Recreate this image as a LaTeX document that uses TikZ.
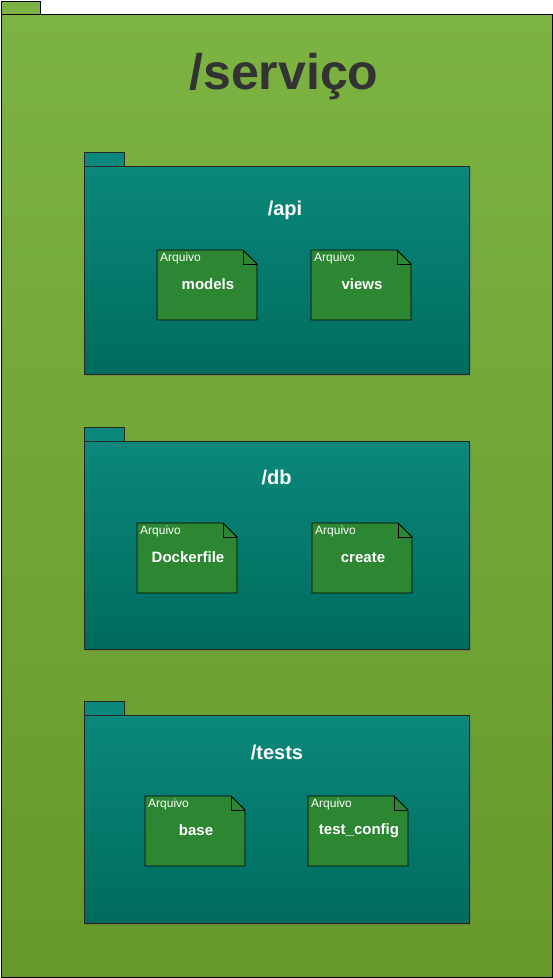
\documentclass[tikz,border=0pt]{standalone}
\usepackage{fontspec}
\setmainfont{Liberation Sans}
\definecolor{outerTop}{HTML}{7DB343}
\definecolor{outerBot}{HTML}{66992A}
\definecolor{pkgTop}{HTML}{0A887B}
\definecolor{pkgBot}{HTML}{006B5F}
\definecolor{fileFill}{HTML}{2D8632}
\definecolor{titleGray}{HTML}{333333}
\tikzset{
  pkgline/.style={draw=black!85, line width=0.8pt},
  pkgshade/.style={top color=pkgTop, bottom color=pkgBot},
  filebox/.style={fill=fileFill, draw=black, line width=0.8pt},
  pkgtitle/.style={text=white, font=\bfseries\fontsize{20}{24}\selectfont, inner sep=0pt},
  ftag/.style={text=white, font=\fontsize{12}{14}\selectfont, inner sep=0pt, anchor=west},
  fname/.style={text=white, font=\bfseries\fontsize{15}{18}\selectfont, inner sep=0pt},
}
% file: #1 name, #2 left x, #3 top y, #4 label
\newcommand{\filenode}[4]{%
  \filldraw[filebox] (#2,#3) -- (#2+86,#3) -- (#2+100,#3+14) -- (#2+100,#3+70) -- (#2,#3+70) -- cycle;
  \draw[black, line width=0.8pt] (#2+86,#3) -- (#2+86,#3+14) -- (#2+100,#3+14);
  \node[ftag] (#1tag) at (#2+3,#3+8) {Arquivo};
  \node[fname] (#1) at (#2+51,#3+34.5) {#4};
}
% package: #1 name, #2 top of tab y, #3 title, #4 title x, #5 title y
\newcommand{\pkgnode}[5]{%
  \fill[black!60, opacity=0.35] (86,#2+16) rectangle (471,#2+224);
  \filldraw[pkgline, fill=pkgTop] (84,#2) rectangle (124,#2+14);
  \filldraw[pkgline, pkgshade] (84,#2+14) rectangle (469,#2+222);
  \node[pkgtitle] (#1) at (#4,#5) {#3};
}
\begin{document}
\begin{tikzpicture}[x=1pt,y=-1pt]
\useasboundingbox (0,0) rectangle (553,978);
\fill[white] (0,0) rectangle (553,978);
% outer package
\filldraw[draw=black, line width=0.8pt, fill=outerTop] (1,1) rectangle (40,14);
\filldraw[draw=black, line width=0.8pt, top color=outerTop, bottom color=outerBot] (1,14) rectangle (552,977);
\node[text=titleGray, font=\bfseries\fontsize{50}{60}\selectfont, inner sep=0pt] (servico) at (284,77) {/serviço};
% packages
\pkgnode{api}{152}{/api}{285}{210}
\filenode{models}{157}{250}{models}
\filenode{views}{311}{250}{views}
\pkgnode{db}{427}{/db}{276.5}{477}
\filenode{dockerfile}{137}{523}{Dockerfile}
\filenode{create}{312}{523}{create}
\pkgnode{tests}{701}{/tests}{277}{752}
\filenode{base}{145}{796}{base}
\filenode{testconfig}{308}{796}{test\_config}
\end{tikzpicture}
\end{document}
